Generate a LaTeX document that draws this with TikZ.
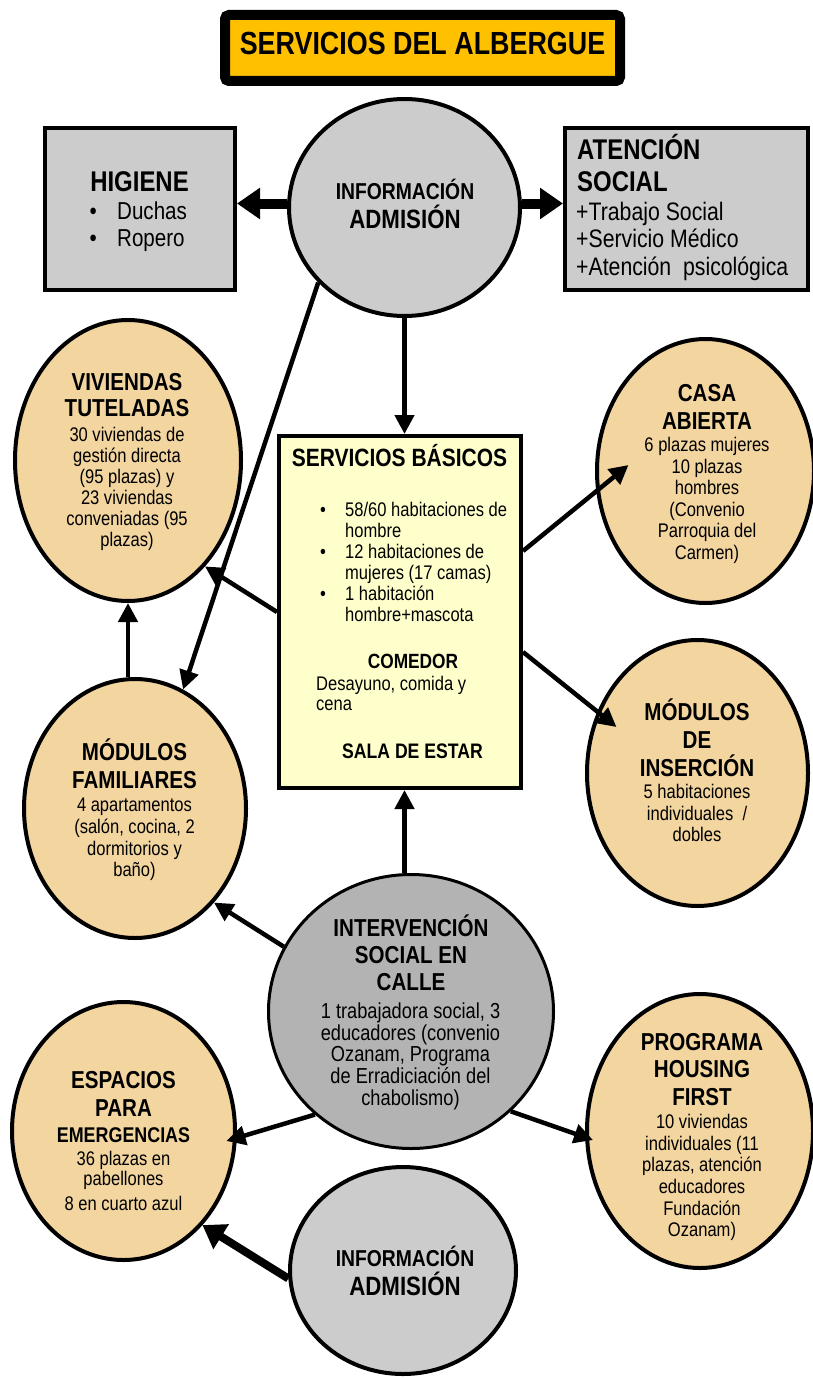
\documentclass[tikz,border=0pt]{standalone}
\usepackage{fontspec}
\setmainfont{Liberation Sans}[FakeStretch=0.84]
\usetikzlibrary{shapes.geometric,arrows.meta,calc}
\definecolor{tanf}{HTML}{F3D5A0}
\definecolor{grayf}{HTML}{CCCCCC}
\definecolor{grayd}{HTML}{B3B3B3}
\definecolor{yell}{HTML}{FFFFCC}
\definecolor{orng}{HTML}{FFC000}
\newcommand{\myfs}[2]{\fontsize{#1}{#2}\selectfont}
\newcommand{\txtlines}[6]{%
  \foreach \tx [count=\ii] in {#6} {\node[#2] (#1\ii) at (#3,{#4+(\ii-1)*#5}) {\tx};}}
\begin{document}
\begin{tikzpicture}[x=1pt,y=-1pt,
  ell/.style={ellipse,draw=black,line width=4pt,fill=tanf,inner sep=0pt},
  box/.style={rectangle,draw=black,line width=4pt,inner sep=0pt},
  hd/.style={font=\bfseries\myfs{24.5}{27},inner sep=0pt,anchor=base},
  bd/.style={font=\myfs{19.7}{21.5},inner sep=0pt,anchor=base},
  bdl/.style={font=\myfs{21.7}{23},inner sep=0pt,anchor=base},
  arr/.style={line width=4.5pt,-{Triangle[length=19pt,width=19pt]}},
  thk/.style={line width=10pt,-{Triangle[length=23pt,width=30pt]}},
  thkb/.style={line width=8pt,-{Triangle[length=22pt,width=28pt]}},
]
\useasboundingbox (0,0) rectangle (813,1378);
% title
\node[rectangle,draw=black,fill=orng,line width=10pt,rounded corners=4pt,minimum width=395pt,minimum height=66pt,inner sep=0pt] (title) at (422.5,48) {};
\node[font=\bfseries\myfs{32}{36},inner sep=0pt,anchor=base] (titletxt) at (422.5,55) {SERVICIOS DEL ALBERGUE};
% boxes
\node[box,fill=grayf,minimum width=190pt,minimum height=162pt] (hig) at (140,209) {};
\node[box,fill=grayf,minimum width=243pt,minimum height=162pt] (aten) at (686.5,209) {};
\node[box,fill=yell,minimum width=242pt,minimum height=352pt] (sb) at (400,612) {};
% ellipses
\node[ell,fill=grayf,minimum width=231pt,minimum height=217pt] (info1) at (404.5,207.5) {};
\node[ell,minimum width=226pt,minimum height=281pt] (vt) at (128,460.5) {};
\node[ell,minimum width=217pt,minimum height=264pt] (ca) at (705.5,471) {};
\node[ell,minimum width=222pt,minimum height=259pt] (mf) at (135,808.5) {};
\node[ell,minimum width=221pt,minimum height=266pt] (mi) at (697.5,773) {};
\node[ell,fill=grayd,line width=3pt,minimum width=285pt,minimum height=274pt] (int) at (411,1011.5) {};
\node[ell,minimum width=223pt,minimum height=258pt] (esp) at (123.5,1131) {};
\node[ell,minimum width=226pt,minimum height=274pt] (phf) at (700,1131) {};
\node[ell,fill=grayf,minimum width=226pt,minimum height=207pt] (info2) at (403,1270.5) {};
% HIGIENE text
\node[font=\bfseries\myfs{28.5}{30},inner sep=0pt,anchor=base] (hig1) at (139.5,191) {HIGIENE};
\node[font=\myfs{24.5}{27},inner sep=0pt,anchor=base west] (hig2) at (89.5,219.3) {\makebox[27.5pt][l]{•}Duchas};
\node[font=\myfs{24.5}{27},inner sep=0pt,anchor=base west] (hig3) at (89.5,246.7) {\makebox[27.5pt][l]{•}Ropero};
% ATENCION text
\node[font=\bfseries\myfs{28.5}{30},inner sep=0pt,anchor=base west] (at1) at (577,160) {ATENCIÓN};
\node[font=\bfseries\myfs{28.5}{30},inner sep=0pt,anchor=base west] (at2) at (577,191.7) {SOCIAL};
\node[font=\myfs{25.3}{27},inner sep=0pt,anchor=base west] (at3) at (576,220) {+Trabajo Social};
\node[font=\myfs{25.3}{27},inner sep=0pt,anchor=base west] (at4) at (576,247.3) {+Servicio Médico};
\node[font=\myfs{25.3}{27},inner sep=0pt,anchor=base west] (at5) at (576,275) {+Atención\ \ psicológica};
% info1 / info2
\node[font=\bfseries\myfs{23}{25},inner sep=0pt,anchor=base] (inf1a) at (405,199) {INFORMACIÓN};
\node[font=\bfseries\myfs{26.5}{28},inner sep=0pt,anchor=base] (inf1b) at (405,228) {ADMISIÓN};
\node[font=\bfseries\myfs{23}{25},inner sep=0pt,anchor=base] (inf2a) at (405,1266) {INFORMACIÓN};
\node[font=\bfseries\myfs{26.5}{28},inner sep=0pt,anchor=base] (inf2b) at (405,1295) {ADMISIÓN};
% SERVICIOS BASICOS text
\node[font=\bfseries\myfs{25}{27},inner sep=0pt,anchor=base] (sbh) at (399.5,466.7) {SERVICIOS BÁSICOS};
\txtlines{sbl}{bd,anchor=base west}{320}{516.7}{21}{{\makebox[25pt][l]{•}58/60 habitaciones de},{\hspace*{25pt}hombre},{\makebox[25pt][l]{•}12 habitaciones de},{\hspace*{25pt}mujeres (17 camas)},{\makebox[25pt][l]{•}1 habitación},{\hspace*{25pt}hombre+mascota}}
\node[font=\bfseries\myfs{20.6}{22},inner sep=0pt,anchor=base] (com) at (413,668.3) {COMEDOR};
\txtlines{des}{bd,anchor=base west}{316}{690}{20}{{Desayuno, comida y},{cena}}
\node[font=\bfseries\myfs{21}{22},inner sep=0pt,anchor=base] (sala) at (412.5,758.3) {SALA DE ESTAR};
% VIVIENDAS TUTELADAS
\txtlines{vth}{hd}{127}{390}{26.5}{{VIVIENDAS},{TUTELADAS}}
\txtlines{vtb}{bd}{127}{441.7}{21}{{30 viviendas de},{gestión directa},{(95 plazas) y},{23 viviendas},{conveniadas (95},{plazas)}}
% CASA ABIERTA
\txtlines{cah}{hd}{707}{401.7}{27.5}{{CASA},{ABIERTA}}
\txtlines{cab}{bd}{707}{451.7}{21.5}{{6 plazas mujeres},{10 plazas},{hombres},{(Convenio},{Parroquia del},{Carmen)}}
% MODULOS FAMILIARES
\txtlines{mfh}{hd}{134.5}{760.7}{27.6}{{MÓDULOS},{FAMILIARES}}
\txtlines{mfb}{bd}{134.5}{811.7}{21.7}{{4 apartamentos},{(salón, cocina, 2},{dormitorios y},{baño)}}
% MODULOS DE INSERCION
\txtlines{mih}{hd}{697}{720}{28}{{MÓDULOS},{DE},{INSERCIÓN}}
\txtlines{mib}{bd}{697}{798.3}{21.7}{{5 habitaciones},{individuales\ \ /},{dobles}}
% INTERVENCION
\txtlines{inh}{hd}{411}{936}{27.4}{{INTERVENCIÓN},{SOCIAL EN},{CALLE}}
\txtlines{inb}{bdl}{410.5}{1018.3}{21.7}{{1 trabajadora social, 3},{educadores (convenio},{Ozanam, Programa},{de Erradiciación del},{chabolismo)}}
% ESPACIOS
\txtlines{esh}{hd}{123.5}{1088.3}{28.4}{{ESPACIOS},{PARA}}
\node[font=\bfseries\myfs{21.3}{24},inner sep=0pt,anchor=base] (esh3) at (123.5,1142.7) {EMERGENCIAS};
\txtlines{esb}{bd}{123.5}{1165}{20}{{36 plazas en},{pabellones}}
\node[bd] (esb3) at (123.5,1210) {8 en cuarto azul};
% HOUSING FIRST
\txtlines{phh}{hd}{702}{1050}{27.5}{{PROGRAMA},{HOUSING},{FIRST}}
\txtlines{phb}{bd}{702}{1128.3}{21.7}{{10 viviendas},{individuales (11},{plazas, atención},{educadores},{Fundación},{Ozanam)}}
% connectors
\draw[thk] ([yshift=4pt]info1.west) -- ([yshift=4pt]info1.west -| hig.east);
\draw[thk] ([yshift=4pt]info1.east) -- ([yshift=4pt]info1.east -| aten.west);
\draw[arr] (info1.south) -- (sb.north -| info1.south);
\draw[arr] (info1.-139) -- (mf.68.8);
\draw[arr] (sb.west) -- (vt.-54);
\draw[arr] (mf.north -| vt.south) -- (vt.south);
\draw[arr] ($(sb.east)+(0,-61)$) -- ($(ca.center)+(-77,-6)$);
\draw[arr] ($(sb.east)+(0,40)$) -- ($(mi.center)+(-81,-46)$);
\draw[arr] (int.north -| info1.south) -- (sb.south -| info1.south);
\draw[arr] (int.153) -- (mf.-50.5);
\draw[arr] (int.-133.6) -- ($(esp.center)+(103,10)$);
\draw[arr] (int.-45.8) -- ($(phf.center)+(-107,9)$);
\draw[thkb] (info2.184) -- (esp.-50.4);
\end{tikzpicture}
\end{document}
